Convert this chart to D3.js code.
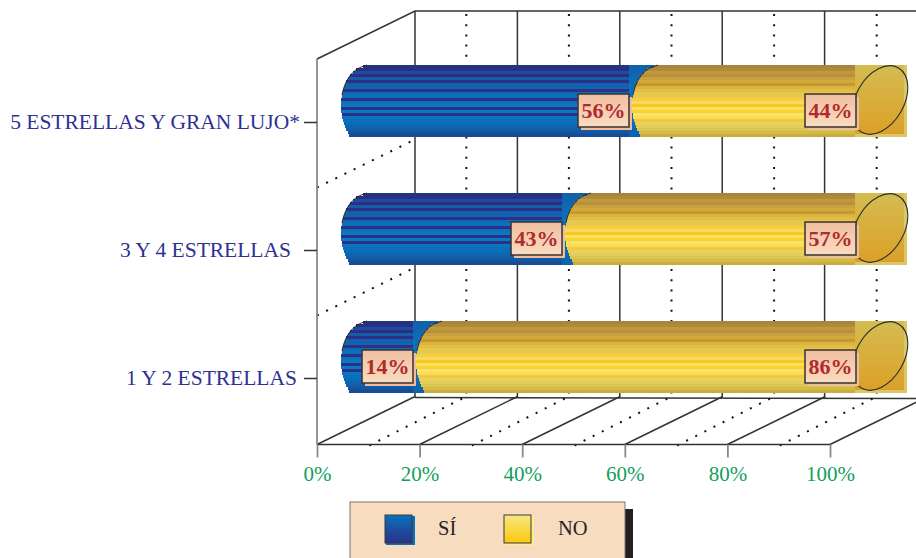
<!DOCTYPE html>
<html>
<head>
<meta charset="utf-8">
<script src="https://cdn.jsdelivr.net/npm/d3@7"></script>
<style>
html,body{margin:0;padding:0;background:#fff}
svg{display:block}
text{font-family:"Liberation Serif","Times New Roman",serif}
</style>
</head>
<body>
<svg id="chart" width="916" height="558"></svg>
<script>
// Hotel categories and yes/no shares, in percent
const categories = ["5 ESTRELLAS Y GRAN LUJO*", "3 Y 4 ESTRELLAS", "1 Y 2 ESTRELLAS"];
const siValues = [56, 43, 14];
const noValues = [44, 57, 86];
const gridTicks = [0, 20, 40, 60, 80, 100];
const dottedTicks = [10, 30, 50, 70, 90];
const legendItems = ["SÍ", "NO"];

// Horizontal bands that give the bars their cylinder shading
const blueBands = ["#1F3580","#2A2F85","#1C4E99","#2A2F85","#165CA5","#2B3088","#1460AC","#1165B0",
  "#2B3088","#0F6AB4","#0D70BA","#2B3088","#0D70BA","#0A78C2","#2B3088","#0A7AC4",
  "#2B3088","#0B74BE","#0B70BA","#0B6CB6","#0E66B0","#125EA8","#1555A0","#184B96"];
const yellowBands = ["#A8843C","#B08A3A","#C09A3E","#B8903A","#C8A23E","#D2AA3C","#C49A30","#DCB440",
  "#E4BE44","#E8C84E","#E8C850","#F6CE3C","#F8D860","#F6C820","#FBE160","#F8D030",
  "#FBE26A","#FADC58","#F0C840","#ECD058","#E4CC58","#DCC44E","#D4BA48","#C8AC3C"];

const svg = d3.select("#chart");
const W = 916;
const depth = {dx: 98, dy: -48};
const floorY = 444.5, wallTop = 59;
const bandH = 3, barH = bandH * blueBands.length;

const xFront = d3.scaleLinear().domain([0, 100]).range([317, 830]);
const xBar = d3.scaleLinear().domain([0, 100]).range([341, 855]);
const y = d3.scalePoint().domain(categories).range([122, 378]);
const capW = 52;

const defs = svg.append("defs");
function vGrad(id, stops) {
  const g = defs.append("linearGradient").attr("id", id).attr("x1", 0).attr("x2", 0).attr("y1", 0).attr("y2", 1);
  stops.forEach((c, i) => g.append("stop").attr("offset", i / (stops.length - 1)).attr("stop-color", c));
}
vGrad("faceBlue", ["#1060AA", "#0A78C2", "#0C62AC"]);
vGrad("faceGold", ["#D4BC50", "#DCA028"]);
vGrad("labelFill", ["#F0BFA0", "#F9DCC0"]);
vGrad("swatchBlue", ["#0A72BC", "#2B3088"]);
vGrad("swatchYellow", ["#F8E880", "#FBC80F"]);

// Box frame: back wall, side wall and floor
const frame = svg.append("g").attr("fill", "none");
const ink = "#333333";
const lineW = 1.5;
const backLeft = xFront(0) + depth.dx, backFloor = floorY + depth.dy, backTop = wallTop + depth.dy;

frame.append("path").attr("stroke", ink).attr("stroke-width", lineW)
  .attr("d", `M${xFront(0)},${wallTop}L${backLeft},${backTop}H${W}`);
frame.append("path").attr("stroke", ink).attr("stroke-width", lineW)
  .attr("d", `M${backLeft},${backFloor + 1}L${W},${backFloor + 2}`);

frame.selectAll("line.back").data(gridTicks.slice(0, 5)).join("line").attr("class", "back")
  .attr("x1", d => xFront(d) + depth.dx - d * 0.01).attr("x2", d => xFront(d) + depth.dx - d * 0.01)
  .attr("y1", backTop).attr("y2", backFloor + 1)
  .attr("stroke", ink).attr("stroke-width", lineW);

frame.selectAll("line.floor").data(gridTicks).join("line").attr("class", "floor")
  .attr("x1", d => xFront(d)).attr("y1", floorY)
  .attr("x2", d => xFront(d) + depth.dx).attr("y2", floorY + depth.dy)
  .attr("stroke", ink).attr("stroke-width", lineW);

// Dotted guides: floor diagonals, back wall verticals, and the two side wall dividers
const dots = {stroke: "#111", "stroke-width": 2, "stroke-dasharray": "2 8.2"};
function dotted(sel) { Object.entries(dots).forEach(([k, v]) => sel.attr(k, v)); return sel; }
dotted(frame.selectAll("line.dotFloor").data(dottedTicks).join("line").attr("class", "dotFloor")
  .attr("x1", d => xFront(d) + 1).attr("y1", floorY + 1)
  .attr("x2", d => xFront(d) + depth.dx).attr("y2", floorY + depth.dy));
dotted(frame.selectAll("line.dotBack").data(dottedTicks).join("line").attr("class", "dotBack")
  .attr("x1", d => xFront(d) + depth.dx).attr("y1", backTop + 3)
  .attr("x2", d => xFront(d) + depth.dx).attr("y2", backFloor));
const dividers = [(y(categories[0]) + y(categories[1])) / 2, (y(categories[1]) + y(categories[2])) / 2];
dotted(frame.selectAll("line.dotSide").data(dividers).join("line").attr("class", "dotSide")
  .attr("x1", xFront(0)).attr("y1", d => d + 1.5)
  .attr("x2", xFront(0) + depth.dx).attr("y2", d => d + 1.5 + depth.dy));

// Front-left wall edge and axes
const xAxis = d3.axisBottom(xFront).tickValues(gridTicks).tickFormat(d => d + "%").tickSize(13).tickPadding(9);
const gx = svg.append("g").attr("transform", `translate(0,${floorY})`).call(xAxis);
gx.select(".domain").attr("stroke", ink).attr("stroke-width", lineW).attr("d", `M${xFront(0)},0H${xFront(100)}`);
gx.selectAll(".tick line").attr("stroke", "#8A8A8A").attr("stroke-width", 1.8);
gx.selectAll(".tick text").attr("fill", "#12A05A").style("font-size", "21px")
  .style("font-family", '"Liberation Serif",serif');

svg.append("line").attr("x1", xFront(0)).attr("x2", xFront(0)).attr("y1", wallTop).attr("y2", floorY)
  .attr("stroke", "#8A8A8A").attr("stroke-width", 1.8);

const yAxis = d3.axisLeft(y).tickSize(13).tickFormat("");
const gy = svg.append("g").attr("transform", `translate(${xFront(0)},0)`).call(yAxis);
gy.select(".domain").remove();
gy.selectAll(".tick line").attr("stroke", ink).attr("stroke-width", lineW);

const labelEnds = {[categories[0]]: 300, [categories[1]]: 291, [categories[2]]: 297};
svg.append("g").selectAll("text").data(categories).join("text")
  .attr("x", d => labelEnds[d]).attr("y", d => y(d) + 6.5)
  .attr("text-anchor", "end").attr("fill", "#2E3192").style("font-size", "21.5px").text(d => d);

// Tilted left end of a bar, as an x offset for a height inside the bar
function capOffset(offsetY) {
  const t = Math.max(-1, Math.min(1, (offsetY - 41) / 40));
  return 26 * (1 - Math.sqrt(1 - t * t));
}

function stripes(g, bands, x0, x1, top) {
  g.selectAll(null).data(bands).join("rect")
    .attr("x", (d, i) => Math.round(x0 + capOffset(i * bandH + bandH / 2)))
    .attr("y", (d, i) => top + i * bandH)
    .attr("width", (d, i) => Math.max(0, x1 - Math.round(x0 + capOffset(i * bandH + bandH / 2))))
    .attr("height", bandH)
    .attr("fill", d => d);
}

function capArc(g, x0, top) {
  const pts = d3.range(0, 31, 2);
  g.append("path").attr("fill", "none").attr("stroke", "#2C2C2C").attr("stroke-width", 1)
    .attr("d", d3.line().x(o => x0 + capOffset(o)).y(o => top + o)(pts));
}

function labelBox(g, right, top, value) {
  const w = 51, h = 33, by = top + 29;
  g.append("rect").attr("x", right - w + 3).attr("y", by + 3).attr("width", w).attr("height", h).attr("fill", "#EDBE9E");
  g.append("rect").attr("x", right - w).attr("y", by).attr("width", w).attr("height", h)
    .attr("fill", "url(#labelFill)").attr("stroke", "#3A3230").attr("stroke-width", 1.5);
  g.append("text").attr("x", right - w / 2).attr("y", by + 24).attr("text-anchor", "middle")
    .attr("fill", "#B02A30").style("font-size", "22px").style("font-weight", "bold").text(value + "%");
}

// Stacked bars, one row per category
categories.forEach((cat, i) => {
  const top = y(cat) - 57;
  const g = svg.append("g");
  const end = Math.round(xBar(siValues[i]));

  // Blue segment and its flat end face, which the yellow segment then overlaps
  g.append("rect").attr("x", end).attr("y", top).attr("width", capW + 1).attr("height", barH).attr("fill", "url(#faceBlue)");
  stripes(g.append("g"), blueBands, xBar(0), end, top);
  capArc(g, xBar(0), top);

  // Yellow segment, its end face and the oval outline of the end
  const yStart = end + 3, yEnd = xBar(100);
  g.append("rect").attr("x", yEnd).attr("y", top).attr("width", capW).attr("height", barH).attr("fill", "#D8C868");
  g.append("rect").attr("x", yEnd).attr("y", top).attr("width", capW - 3).attr("height", barH - 3).attr("fill", "url(#faceGold)");
  stripes(g.append("g"), yellowBands, yStart, yEnd, top);
  capArc(g, yStart, top);
  g.append("ellipse").attr("cx", 0).attr("cy", 0).attr("rx", 37).attr("ry", 24)
    .attr("transform", `translate(${yEnd + 25},${top + 35}) rotate(-60)`)
    .attr("fill", "none").attr("stroke", "#2C2C2C").attr("stroke-width", 1.1);

  labelBox(g, end, top, siValues[i]);
  labelBox(g, yEnd + 1, top, noValues[i]);
});

// Legend panel
const legend = svg.append("g");
legend.append("rect").attr("x", 625).attr("y", 509).attr("width", 8).attr("height", 49).attr("fill", "#231F20");
legend.append("rect").attr("x", 350).attr("y", 502).attr("width", 275).attr("height", 58)
  .attr("fill", "#F8DCC0").attr("stroke", "#7A7470").attr("stroke-width", 1);
const legendX = d3.scaleOrdinal().domain(legendItems).range([385, 504]);
const legendShadow = d3.scaleOrdinal().domain(legendItems).range(["#0A70BA", "#FBEE90"]);
const legendFill = d3.scaleOrdinal().domain(legendItems).range(["url(#swatchBlue)", "url(#swatchYellow)"]);
const legendText = d3.scaleOrdinal().domain(legendItems).range([438, 558]);
legendItems.forEach(name => {
  legend.append("rect").attr("x", legendX(name) + 1).attr("y", 516).attr("width", 29).attr("height", 29).attr("fill", legendShadow(name));
  legend.append("rect").attr("x", legendX(name)).attr("y", 515).attr("width", 27).attr("height", 28)
    .attr("fill", legendFill(name)).attr("stroke", "#3A3A3A").attr("stroke-width", 1);
  legend.append("text").attr("x", legendText(name)).attr("y", 535).attr("fill", "#2A2526")
    .style("font-size", "20.5px").text(name);
});
</script>
</body>
</html>
